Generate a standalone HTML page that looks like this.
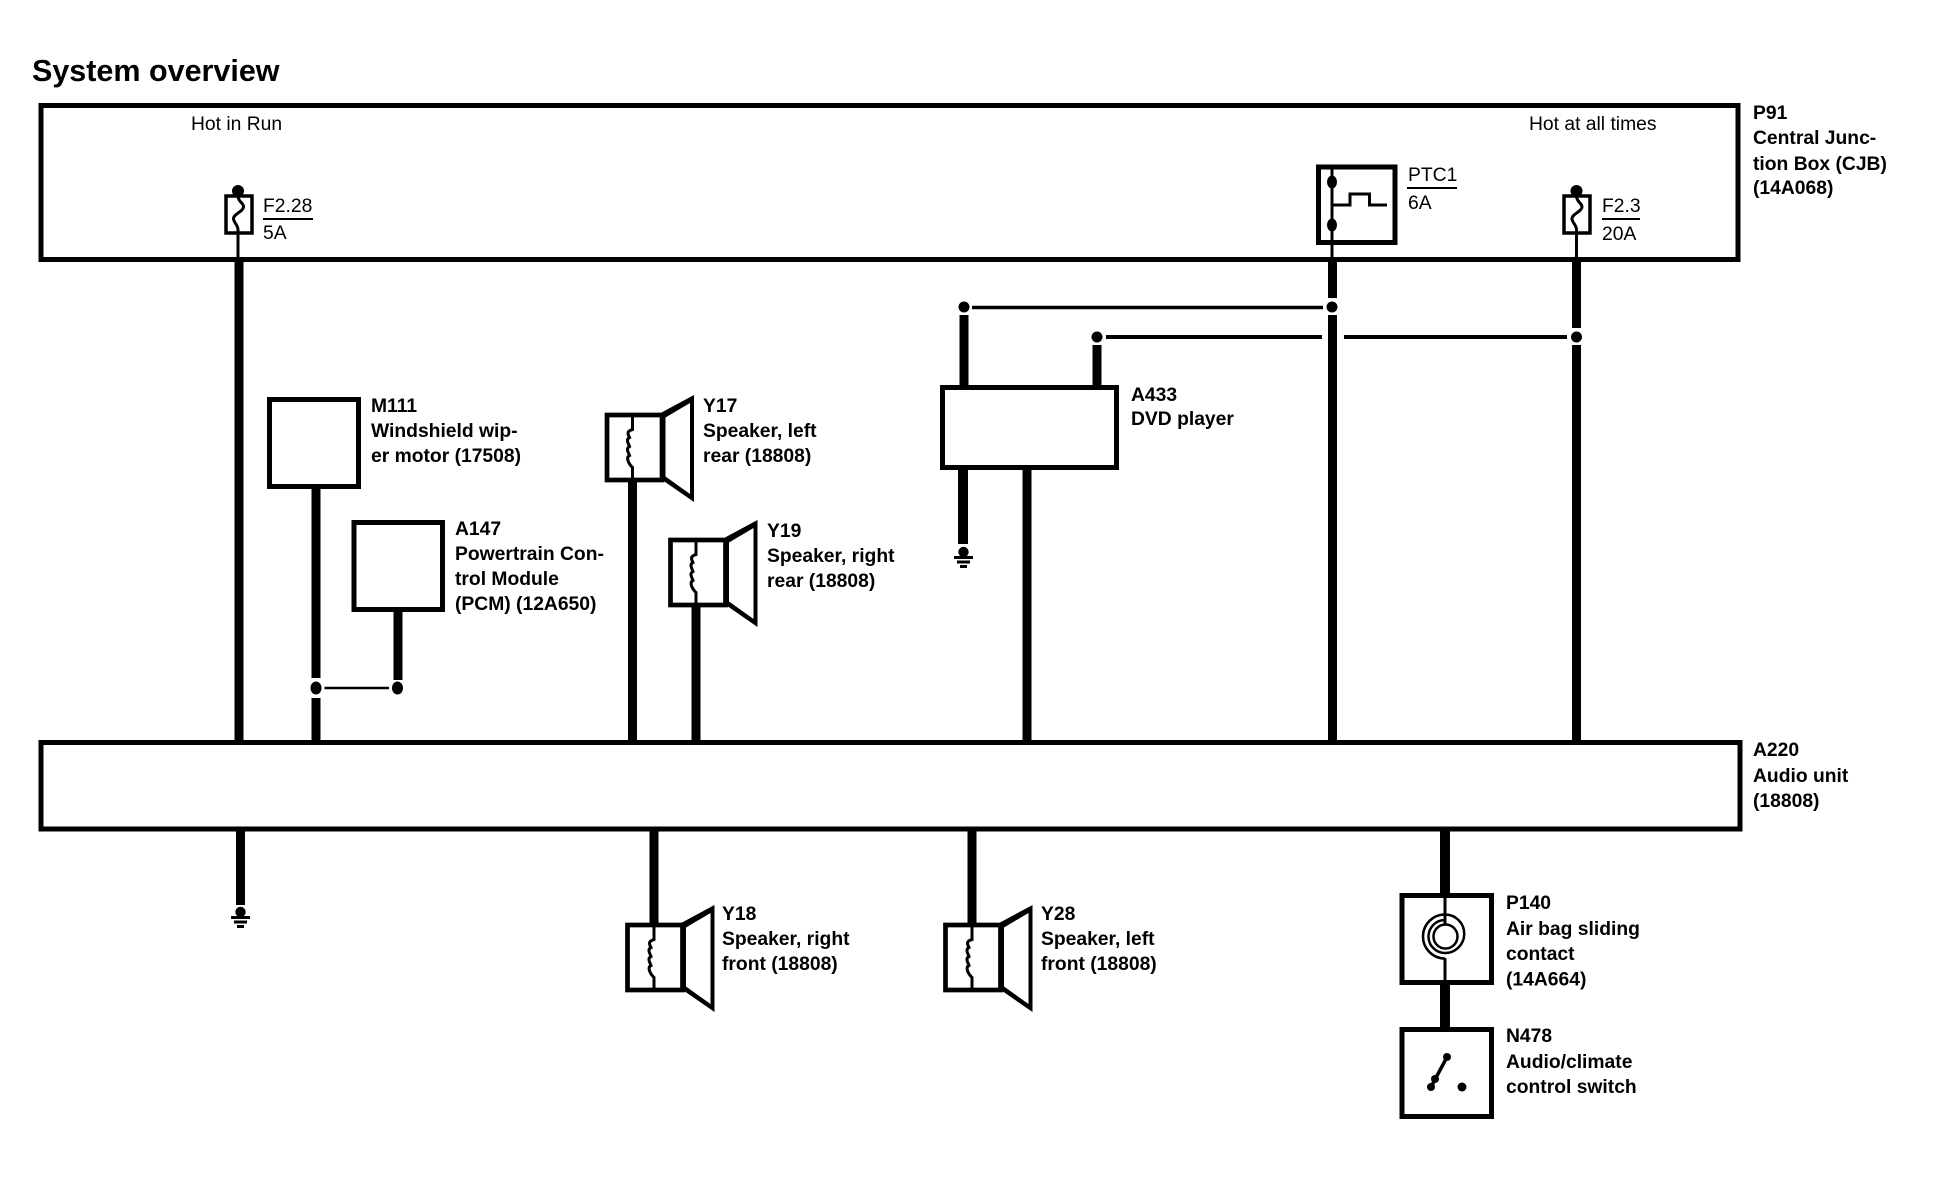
<!DOCTYPE html>
<html><head><meta charset="utf-8"><style>
html,body{margin:0;padding:0;background:#fff}
svg{display:block}
text{font-family:"Liberation Sans",Arial,sans-serif;font-size:19.3px;fill:#000}
.b{font-weight:bold}
.w{stroke:#000;stroke-width:9;fill:none}
.t{stroke:#000;stroke-width:3;fill:none}
.box{stroke:#000;stroke-width:5;fill:#fff}
</style></head><body>
<svg width="1936" height="1184" viewBox="0 0 1936 1184" xmlns="http://www.w3.org/2000/svg">
<rect width="1936" height="1184" fill="#fff"/>
<text x="32" y="81" class="b" style="font-size:30.5px">System overview</text>

<!-- thick wires -->
<path class="w" d="M239 259V745M316 489V678M316 698V745M398 612V680M632.5 482V745M696 607V745M1027 470V745M1332.5 259V298M1332.5 315V745M1576.5 259V328M1576.5 345V745M964 315V385M1097 345V385"/>
<path class="w" style="stroke-width:10" d="M963 470V544"/>
<path class="w" d="M240.5 829V905M654 829V925M972 829V925"/>
<path class="w" style="stroke-width:10" d="M1445 829V895M1445 985V1029"/>

<!-- P91 -->
<rect class="box" style="fill:none" x="41" y="105.5" width="1697" height="154"/>
<text x="191" y="130">Hot in Run</text>
<text x="1529" y="130">Hot at all times</text>
<!-- F2.28 -->
<circle cx="238" cy="191" r="6"/>
<rect x="226" y="196" width="26" height="37" fill="#fff" stroke="#000" stroke-width="3.5"/>
<path class="t" d="M238 196C238 202 244 203 243.5 207C243 212 233 214 233.5 219C234 223 238 225 238 230V259"/>
<text x="263" y="212">F2.28</text>
<path d="M263 219H313" stroke="#000" stroke-width="2"/>
<text x="263" y="239">5A</text>
<!-- PTC1 -->
<rect class="box" x="1318.5" y="167" width="76.5" height="75.5"/>
<path class="t" d="M1332 166V259M1332 205H1350V194H1369.5V205H1387"/>
<ellipse cx="1332" cy="182" rx="5" ry="6.5"/>
<ellipse cx="1332" cy="225" rx="5" ry="6.5"/>
<text x="1408" y="181">PTC1</text>
<path d="M1407 188H1457" stroke="#000" stroke-width="2"/>
<text x="1408" y="209">6A</text>
<!-- F2.3 -->
<circle cx="1576.5" cy="191" r="6"/>
<rect x="1564" y="196" width="26" height="37" fill="#fff" stroke="#000" stroke-width="3.5"/>
<path class="t" d="M1576.5 196C1576.5 202 1582 203 1582 207C1581.5 212 1571.5 214 1572 219C1572.5 223 1576.5 225 1576.5 230V259"/>
<text x="1602" y="212">F2.3</text>
<path d="M1602 219H1640" stroke="#000" stroke-width="2"/>
<text x="1602" y="240">20A</text>
<text class="b" x="1753" y="119">P91</text>
<text class="b" x="1753" y="144">Central Junc-</text>
<text class="b" x="1753" y="170">tion Box (CJB)</text>
<text class="b" x="1753" y="194">(14A068)</text>

<!-- junction lines -->
<path stroke="#000" stroke-width="3.5" d="M972 307.5H1323"/>
<path stroke="#000" stroke-width="4" d="M1106 337H1322M1344 337H1567"/>
<circle cx="964" cy="307" r="5.5"/>
<circle cx="1097" cy="337" r="5.5"/>
<circle cx="1332" cy="307" r="5.5"/>
<circle cx="1576.5" cy="337" r="5.5"/>

<!-- M111 / A147 -->
<rect class="box" x="269.5" y="399.5" width="89" height="87"/>
<text class="b" x="371" y="412">M111</text>
<text class="b" x="371" y="437">Windshield wip-</text>
<text class="b" x="371" y="462">er motor (17508)</text>
<rect class="box" x="354" y="522.5" width="88.5" height="87"/>
<text class="b" x="455" y="535">A147</text>
<text class="b" x="455" y="560">Powertrain Con-</text>
<text class="b" x="455" y="585">trol Module</text>
<text class="b" x="455" y="610">(PCM) (12A650)</text>
<path stroke="#000" stroke-width="2.5" d="M324.5 688H389"/>
<ellipse cx="316" cy="688" rx="5.5" ry="6.5"/>
<ellipse cx="397.5" cy="688" rx="5.5" ry="6.5"/>

<!-- Speakers -->
<g transform="translate(632.5,413.5)">
<path fill-rule="evenodd" d="M29 -1L61.5 -18.5V88.5L29 66ZM33 4L57.5 -10.5V80.5L33 63Z"/>
<rect x="-25.5" y="1.5" width="55" height="65" fill="#fff" stroke="#000" stroke-width="4.7"/>
<path class="t" d="M0 2V16C-7 18 -4 22 -3 24C-7 26 -4 30 -3 33C-7 35 -4 39 -3 42C-7 44 -4 50 0 54V68"/>
</g>
<text class="b" x="703" y="412">Y17</text>
<text class="b" x="703" y="437">Speaker, left</text>
<text class="b" x="703" y="462">rear (18808)</text>

<g transform="translate(696,538.5)">
<path fill-rule="evenodd" d="M29 -1L61.5 -18.5V88.5L29 66ZM33 4L57.5 -10.5V80.5L33 63Z"/>
<rect x="-25.5" y="1.5" width="55" height="65" fill="#fff" stroke="#000" stroke-width="4.7"/>
<path class="t" d="M0 2V16C-7 18 -4 22 -3 24C-7 26 -4 30 -3 33C-7 35 -4 39 -3 42C-7 44 -4 50 0 54V68"/>
</g>
<text class="b" x="767" y="537">Y19</text>
<text class="b" x="767" y="562">Speaker, right</text>
<text class="b" x="767" y="587">rear (18808)</text>

<g transform="translate(653,923.5)">
<path fill-rule="evenodd" d="M29 -1L61.5 -18.5V88.5L29 66ZM33 4L57.5 -10.5V80.5L33 63Z"/>
<rect x="-25.5" y="1.5" width="55" height="65" fill="#fff" stroke="#000" stroke-width="4.7"/>
<path class="t" d="M1 2V16C-6 18 -3 22 -2 24C-6 26 -3 30 -2 33C-6 35 -3 39 -2 42C-6 44 -3 50 1 54V68"/>
</g>
<text class="b" x="722" y="920">Y18</text>
<text class="b" x="722" y="945">Speaker, right</text>
<text class="b" x="722" y="970">front (18808)</text>

<g transform="translate(971,923.5)">
<path fill-rule="evenodd" d="M29 -1L61.5 -18.5V88.5L29 66ZM33 4L57.5 -10.5V80.5L33 63Z"/>
<rect x="-25.5" y="1.5" width="55" height="65" fill="#fff" stroke="#000" stroke-width="4.7"/>
<path class="t" d="M1 2V16C-6 18 -3 22 -2 24C-6 26 -3 30 -2 33C-6 35 -3 39 -2 42C-6 44 -3 50 1 54V68"/>
</g>
<text class="b" x="1041" y="920">Y28</text>
<text class="b" x="1041" y="945">Speaker, left</text>
<text class="b" x="1041" y="970">front (18808)</text>

<!-- A433 -->
<rect class="box" x="942.5" y="387.5" width="174" height="80"/>
<text class="b" x="1131" y="401">A433</text>
<text class="b" x="1131" y="425">DVD player</text>
<g>
<circle cx="963.5" cy="552" r="5.2"/>
<path stroke="#000" stroke-width="3" d="M954 557.5H973M957 562H970M960 566.5H967"/>
</g>

<!-- A220 -->
<rect class="box" x="41" y="742.5" width="1699" height="86.5"/>
<text class="b" x="1753" y="756">A220</text>
<text class="b" x="1753" y="782">Audio unit</text>
<text class="b" x="1753" y="807">(18808)</text>
<g transform="translate(-723,360)">
<circle cx="963.5" cy="552" r="5.2"/>
<path stroke="#000" stroke-width="3" d="M954 557.5H973M957 562H970M960 566.5H967"/>
</g>

<!-- P140 -->
<rect class="box" x="1402" y="895.5" width="89.5" height="87"/>
<path stroke="#000" stroke-width="3" fill="none" d="M1445 895V925M1445 958V983"/>
<path stroke="#000" stroke-width="2.5" fill="none" d="M1445 958.5A22 22 0 0 1 1445 914.5A19 19 0 0 1 1445 953A16.5 16.5 0 0 1 1445 920"/>
<circle cx="1445.5" cy="936.5" r="12" fill="none" stroke="#000" stroke-width="2.5"/>
<text class="b" x="1506" y="909">P140</text>
<text class="b" x="1506" y="935">Air bag sliding</text>
<text class="b" x="1506" y="960">contact</text>
<text class="b" x="1506" y="985.5">(14A664)</text>

<!-- N478 -->
<rect class="box" x="1402" y="1029.5" width="89.5" height="87"/>
<path stroke="#000" stroke-width="3.5" d="M1447 1057L1431 1087"/>
<circle cx="1447" cy="1057" r="4"/>
<circle cx="1435" cy="1079" r="4"/>
<circle cx="1431" cy="1087" r="4"/>
<circle cx="1462" cy="1087" r="4.5"/>
<text class="b" x="1506" y="1042">N478</text>
<text class="b" x="1506" y="1068">Audio/climate</text>
<text class="b" x="1506" y="1093">control switch</text>
</svg>
</body></html>
